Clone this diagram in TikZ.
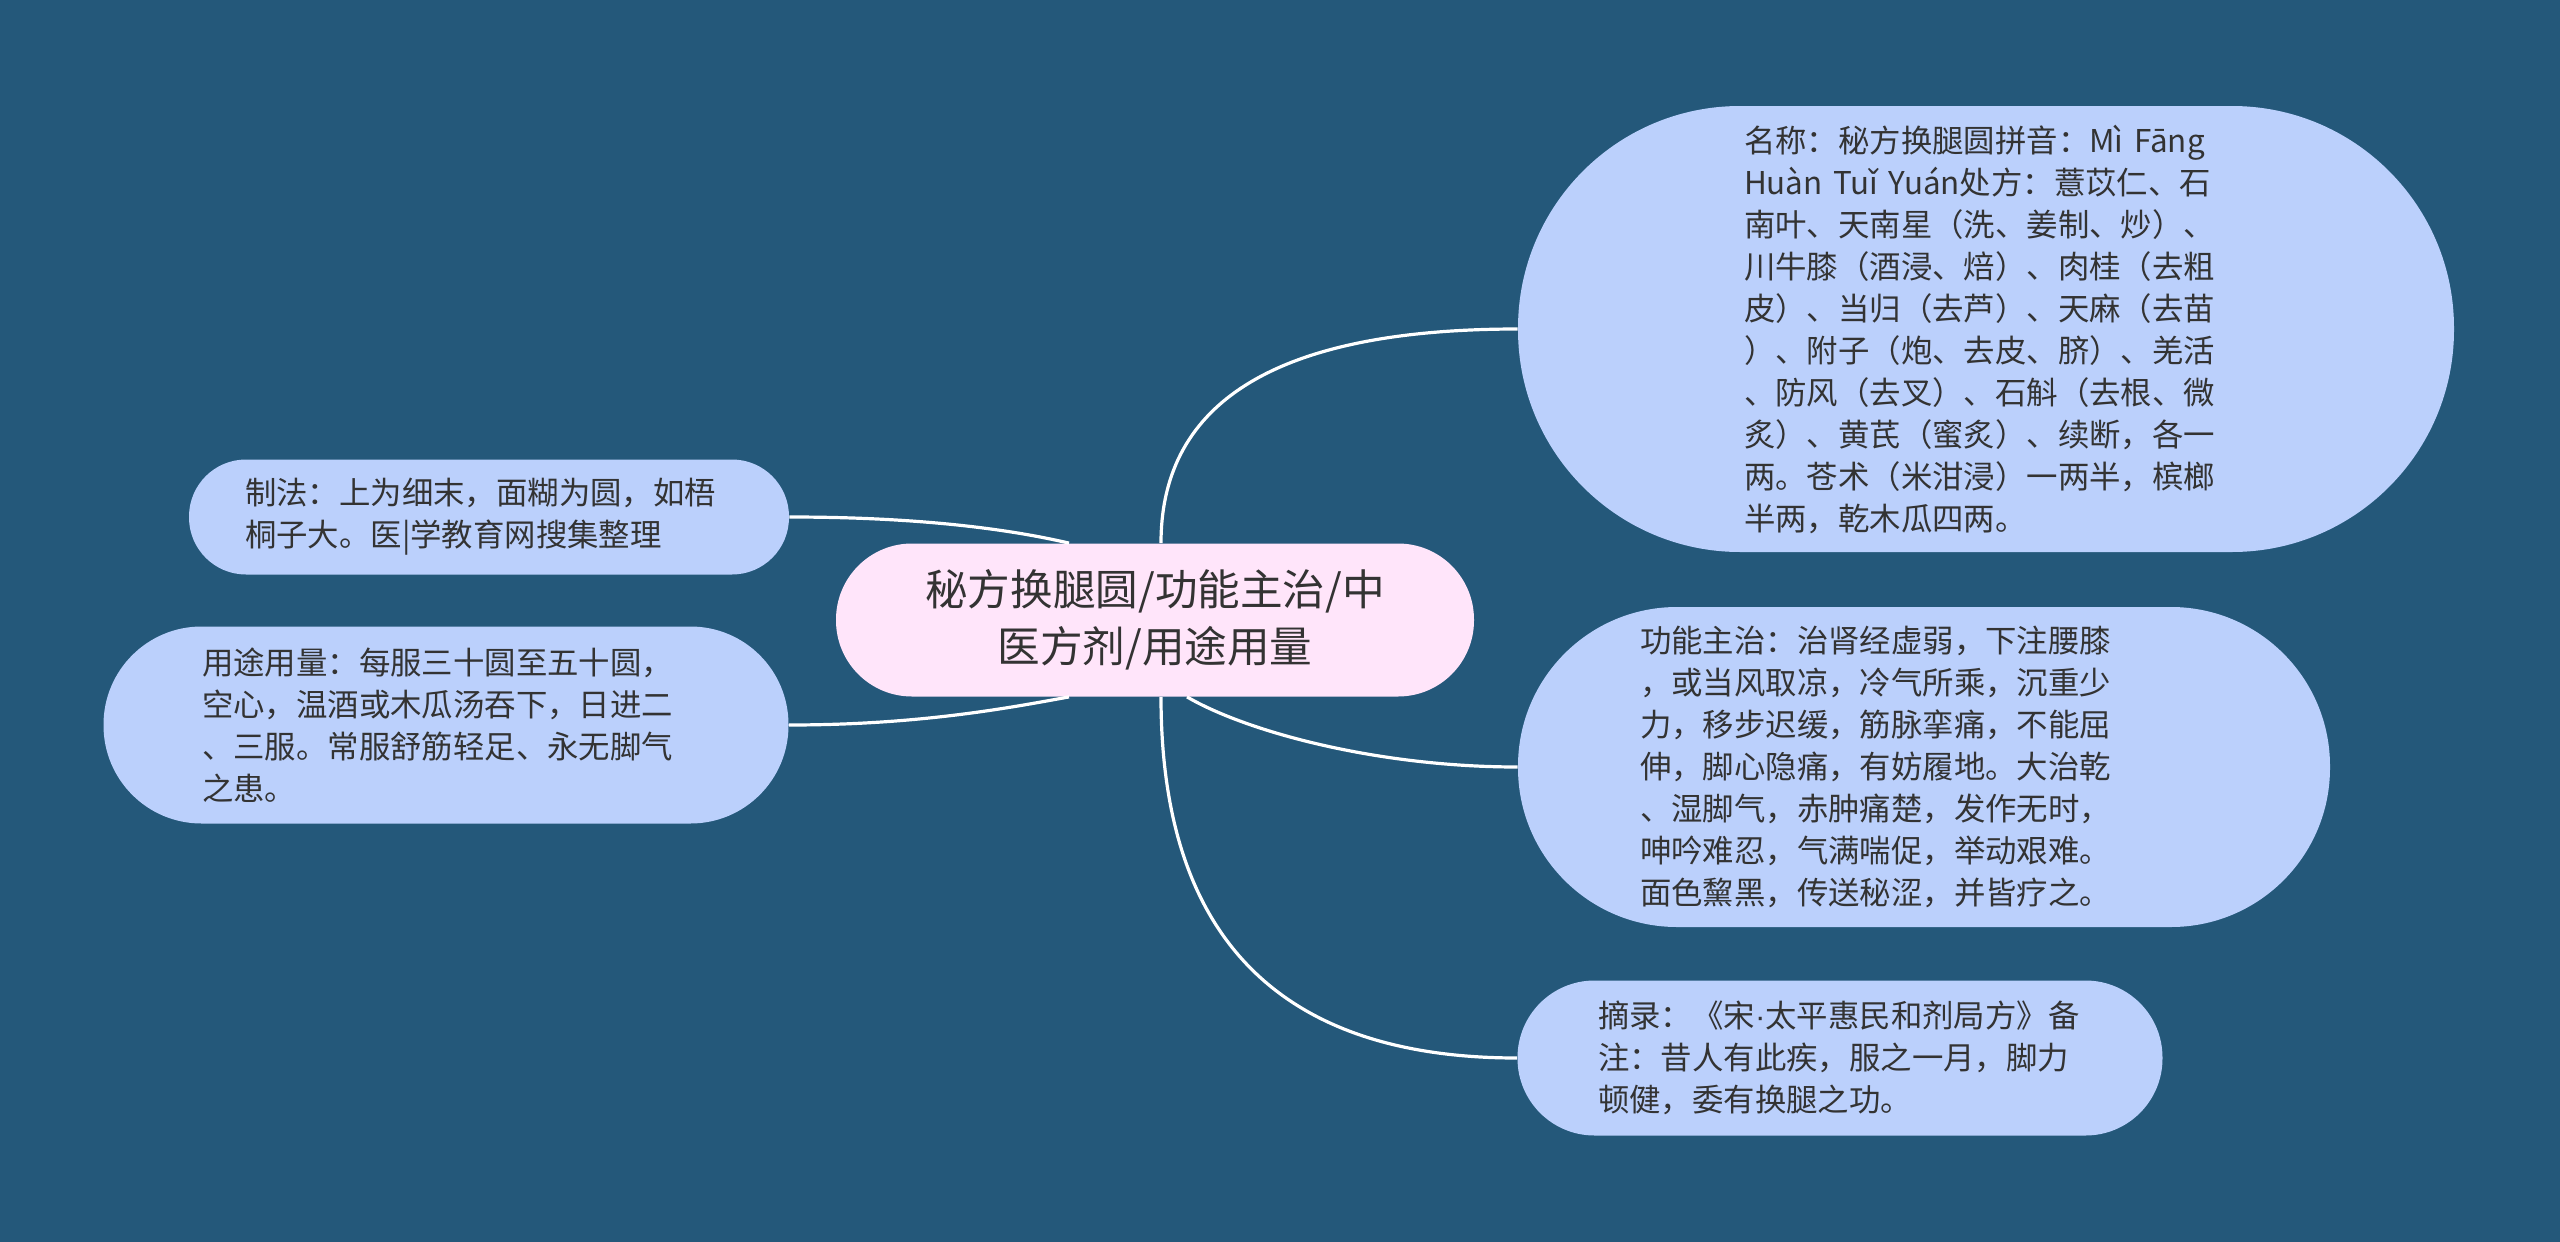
\documentclass[tikz,border=0pt]{standalone}
\usepackage{fontspec}
\setmainfont{Noto Sans CJK SC}
\newfontfamily\dotfont{Liberation Sans}
\usetikzlibrary{calc}
\definecolor{bgblue}{HTML}{24587A}
\definecolor{leafblue}{HTML}{BBD0FC}
\definecolor{rootpink}{HTML}{FFE5FA}
\definecolor{inkgrey}{HTML}{333333}
\begin{document}
\begin{tikzpicture}[x=0.5pt,y=-0.5pt,
  root/.style={fill=rootpink,text=inkgrey,align=center,inner sep=0pt,
    font=\fontsize{21.3pt}{28.5pt}\selectfont,
    minimum width=319pt,minimum height=76.5pt,rounded corners=38pt},
  leaf/.style={fill=leafblue,text=inkgrey,align=left,inner sep=0pt,
    font=\fontsize{15.7pt}{21pt}\selectfont},
  link/.style={white,line width=1.6pt}]
\fill[bgblue] (0,0) rectangle (2560,1242);
% centre and branches
\node[root] (C) at (1155,620) {秘方换腿圆/功能主治/中\\医方剂/用途用量};
\node[leaf,minimum width=468pt,minimum height=223pt,rounded corners=111pt,text width=242pt] (R1) at (1986,329) {名称：秘方换腿圆拼音：Mì~Fāng\\
Huàn~Tuǐ~Yuán处方：薏苡仁、石\\
南叶、天南星（洗、姜制、炒）、\\
川牛膝（酒浸、焙）、肉桂（去粗\\
皮）、当归（去芦）、天麻（去苗\\
）、附子（炮、去皮、脐）、羌活\\
、防风（去叉）、石斛（去根、微\\
炙）、黄芪（蜜炙）、续断，各一\\
两。苍术（米泔浸）一两半，槟榔\\
半两，乾木瓜四两。};
\node[leaf,minimum width=406pt,minimum height=160pt,rounded corners=79.5pt,text width=284pt] (R2) at (1924,767) {功能主治：治肾经虚弱，下注腰膝\\
，或当风取凉，冷气所乘，沉重少\\
力，移步迟缓，筋脉挛痛，不能屈\\
伸，脚心隐痛，有妨履地。大治乾\\
、湿脚气，赤肿痛楚，发作无时，\\
呻吟难忍，气满喘促，举动艰难。\\
面色黧黑，传送秘涩，并皆疗之。};
\node[leaf,minimum width=322.5pt,minimum height=77.5pt,rounded corners=38.5pt,text width=242pt] (R3) at (1840,1058) {摘录：《宋{\dotfont ·}太平惠民和剂局方》备\\
注：昔人有此疾，服之一月，脚力\\
顿健，委有换腿之功。};
\node[leaf,minimum width=300pt,minimum height=57.5pt,rounded corners=28.5pt,text width=244pt] (L1) at (489,517) {制法：上为细末，面糊为圆，如梧\\
桐子大。医|学教育网搜集整理};
\node[leaf,minimum width=342.5pt,minimum height=98.5pt,rounded corners=49pt,text width=244pt] (L2) at (446,725) {用途用量：每服三十圆至五十圆，\\
空心，温酒或木瓜汤吞下，日进二\\
、三服。常服舒筋轻足、永无脚气\\
之患。};
% links
\coordinate (cR1) at ($(C.north)+(6,0)$);
\coordinate (cR2) at ($(C.south)+(32,0)$);
\coordinate (cR3) at ($(C.south)+(6,0)$);
\coordinate (cL1) at ($(C.north)+(-86,0)$);
\coordinate (cL2) at ($(C.south)+(-86,0)$);
\draw[link] (cR1) .. controls ($(cR1)+(0,-143)$) and ($(R1.west)+(-238,0)$) .. (R1.west);
\draw[link] (cR2) .. controls ($(cR2)+(60,35)$) and ($(R2.west)+(-140,0)$) .. (R2.west);
\draw[link] (cR3) .. controls ($(cR3)+(0,240)$) and ($(R3.west)+(-238,0)$) .. (R3.west);
\draw[link] (L1.east) .. controls ($(L1.east)+(130,0)$) and ($(cL1)+(-60,-14)$) .. (cL1);
\draw[link] (L2.east) .. controls ($(L2.east)+(130,0)$) and ($(cL2)+(-60,11)$) .. (cL2);
\end{tikzpicture}
\end{document}
